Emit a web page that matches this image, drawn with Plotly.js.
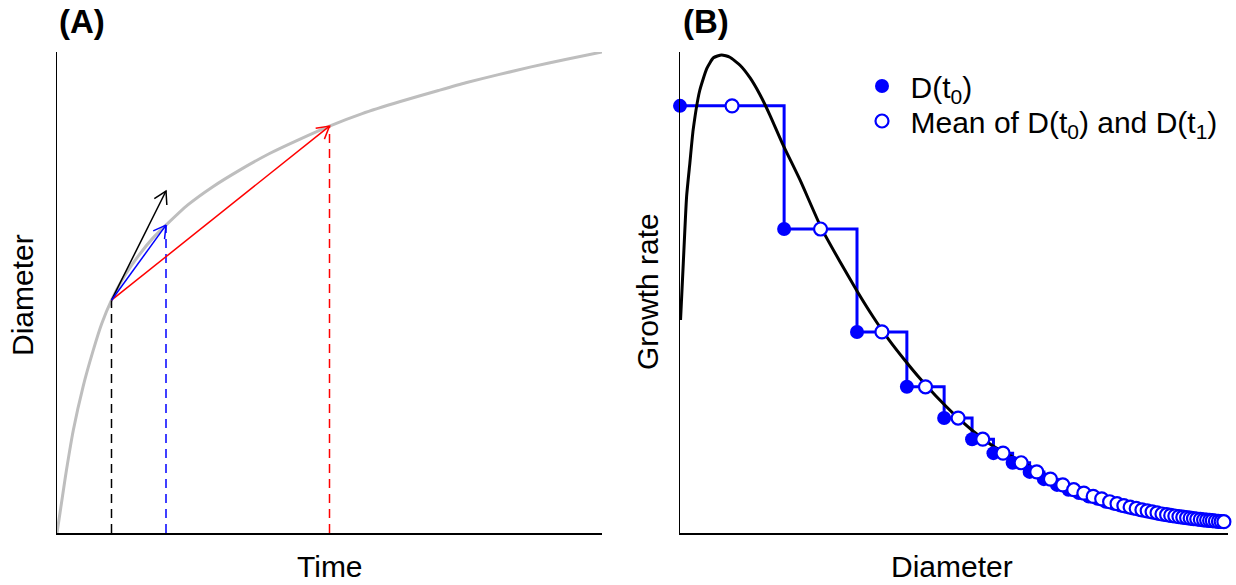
<!DOCTYPE html>
<html><head><meta charset="utf-8">
<script src="https://cdn.plot.ly/plotly-3.0.1.min.js"></script>
<style>html,body{margin:0;padding:0;background:#fff}</style>
</head><body><div id="chart" style="width:1236px;height:585px"></div>
<script>
// ---------- Panel A data: diameter vs time ----------
const timeA = [0, 1.5, 3, 4.8, 6.6, 8.2, 10, 12, 15, 17.5, 20, 24, 28.6, 33.6, 39, 44.6, 50, 56, 63, 70, 75, 81, 87, 93.5, 100];
const diamA = [0, 11.4, 21.4, 30.5, 37.8, 43.5, 48.4, 52.7, 57.7, 61.2, 64.0, 68.2, 72.0, 75.5, 78.9, 81.9, 84.6, 87.2, 89.7, 92.0, 93.6, 95.3, 96.9, 98.5, 100];
const tStart = 10, dStart = 48.4;          // D(t0)
const tBlue = 20, dBlue = 64.0;            // D(t1), short interval
const tRed = 50, dRed = 84.6;              // D(t1), long interval
const dTangent = 71.1;                     // tangent end at t = 20

// ---------- Panel B data: growth rate vs diameter ----------
const curveD = [0.1, 0.6, 1.2, 1.8, 2.4, 3.6, 4.9, 6.1, 7.6, 9.1, 11.0, 12.8, 14.6, 16.4, 18.8, 21.9, 25.8, 29.2, 32.3, 35.2, 38.1, 41.1, 43.8, 46.7, 50.4, 53.8, 57.5, 62.0, 67.5, 73.0, 78.5, 83.9, 89.4, 94.9, 100];
const curveG = [44.3, 56.1, 69.9, 76.9, 83.8, 92.0, 96.6, 98.8, 99.4, 98.9, 97.2, 94.6, 91.1, 86.9, 80.7, 73.4, 63.4, 56.4, 50.3, 45.0, 40.2, 35.8, 32.1, 28.5, 24.3, 20.9, 17.8, 15.0, 11.6, 8.9, 6.9, 5.2, 3.95, 3.1, 2.5];
// successive diameters D(t0), D(t1), ... (one more than growth values)
const stepD = [0, 19.0, 32.3, 41.4, 48.2, 53.3, 57.2, 60.7, 63.8, 66.4, 68.8, 70.9, 72.8, 74.6, 76.2, 77.7, 79.1, 80.4, 81.6, 82.7, 83.8, 84.8, 85.7, 86.6, 87.5, 88.4, 89.2, 89.9, 90.7, 91.4, 92.1, 92.8, 93.4, 94.0, 94.6, 95.3, 95.8, 96.4, 96.9, 97.4, 98.0, 98.5, 99.0, 99.5];
// observed growth rate in each interval
const stepG = [88.8, 63.2, 41.8, 30.4, 23.9, 19.5, 16.6, 14.6, 12.7, 11.2, 10.0, 9.0, 8.3, 7.6, 7.1, 6.5, 6.1, 5.7, 5.4, 5.1, 4.8, 4.6, 4.4, 4.2, 3.95, 3.8, 3.66, 3.53, 3.41, 3.28, 3.18, 3.08, 2.99, 2.91, 2.83, 2.74, 2.68, 2.62, 2.56, 2.49, 2.43, 2.39, 2.35];

const legendLabels = ['D(t<sub>0</sub>)', 'Mean of D(t<sub>0</sub>) and D(t<sub>1</sub>)'];

// ---------- geometry ----------
const W = 1236, H = 585;
const plotTop = 52, plotBot = 533;
const aL = 57, aR = 602, bL = 680, bR = 1228;
const xRange = [0, 100], yRange = [0, 100];
const FONT = '"Liberation Sans", Arial, Helvetica, sans-serif';
const BLUE = '#0000FF';

const pxAX = (aR - aL) / (xRange[1] - xRange[0]);
const pxAY = (plotBot - plotTop) / (yRange[1] - yRange[0]);

function arrow(x0, y0, x1, y1, color) {
  const dx = (x1 - x0) * pxAX, dy = (y1 - y0) * pxAY;
  const ang = Math.atan2(dy, dx), L = 14, a = Math.PI / 6;
  const h1x = x1 - L * Math.cos(ang - a) / pxAX, h1y = y1 - L * Math.sin(ang - a) / pxAY;
  const h2x = x1 - L * Math.cos(ang + a) / pxAX, h2y = y1 - L * Math.sin(ang + a) / pxAY;
  return {x: [x0, x1, null, h1x, x1, h2x], y: [y0, y1, null, h1y, y1, h2y],
    mode: 'lines', line: {color: color, width: 1.5}, xaxis: 'x', yaxis: 'y',
    showlegend: false, hoverinfo: 'skip'};
}
function vdash(x, y, color) {
  return {x: [x, x], y: [0, y], mode: 'lines', line: {color: color, width: 1.5, dash: '9px,6px'},
    xaxis: 'x', yaxis: 'y', showlegend: false, hoverinfo: 'skip'};
}

// step line
const sx = [], sy = [];
for (let k = 0; k < stepG.length; k++) { sx.push(stepD[k]); sy.push(stepG[k]); }
sx.push(stepD[stepG.length]); sy.push(stepG[stepG.length - 1]);
const filledD = stepD.slice(0, stepG.length);
const meanD = stepG.map((g, k) => (stepD[k] + stepD[k + 1]) / 2);

const traces = [
  {x: timeA, y: diamA, mode: 'lines', line: {color: '#BEBEBE', width: 3, shape: 'spline', smoothing: 0.6},
   xaxis: 'x', yaxis: 'y', showlegend: false, hoverinfo: 'skip'},
  vdash(tStart, dStart, '#000000'),
  vdash(tBlue, dBlue, BLUE),
  vdash(tRed, dRed, '#FF0000'),
  arrow(tStart, dStart, tRed, dRed, '#FF0000'),
  arrow(tStart, dStart, tBlue, dTangent, '#000000'),
  arrow(tStart, dStart, tBlue, dBlue, BLUE),
  {x: sx, y: sy, mode: 'lines', line: {color: BLUE, width: 3, shape: 'hv'},
   xaxis: 'x2', yaxis: 'y2', showlegend: false, hoverinfo: 'skip'},
  {x: curveD, y: curveG, mode: 'lines', line: {color: '#000000', width: 3, shape: 'spline', smoothing: 0.5},
   xaxis: 'x2', yaxis: 'y2', showlegend: false, hoverinfo: 'skip'},
  {x: filledD, y: stepG, mode: 'markers', name: legendLabels[0], legend: 'legend',
   marker: {color: BLUE, size: 14, line: {width: 0}}, cliponaxis: false,
   xaxis: 'x2', yaxis: 'y2', hoverinfo: 'skip'},
  {x: meanD, y: stepG, mode: 'markers', name: legendLabels[1], legend: 'legend2',
   marker: {color: '#FFFFFF', size: 13, line: {color: BLUE, width: 2.2}}, cliponaxis: false,
   xaxis: 'x2', yaxis: 'y2', hoverinfo: 'skip'}
];

function ax(domain, anchor, lw) {
  return {domain: domain, range: xRange, anchor: anchor, showline: true, linecolor: '#000', linewidth: lw,
    showticklabels: false, ticks: '', showgrid: false, zeroline: false, fixedrange: true};
}
const yDom = [(H - plotBot) / H, (H - plotTop) / H];
const legendCommon = {xanchor: 'left', yanchor: 'middle', bgcolor: 'rgba(0,0,0,0)', borderwidth: 0,
  font: {family: FONT, size: 30, color: '#000'}, itemwidth: 47};

const layout = {
  width: W, height: H, autosize: false,
  margin: {l: 0, r: 0, t: 0, b: 0, pad: 0},
  paper_bgcolor: '#fff', plot_bgcolor: '#fff',
  font: {family: FONT, color: '#000'},
  xaxis: ax([aL / W, aR / W], 'y', 2),
  yaxis: Object.assign(ax(yDom, 'x', 1.5), {range: yRange}),
  xaxis2: ax([bL / W, bR / W], 'y2', 2),
  yaxis2: Object.assign(ax(yDom, 'x2', 1.5), {range: yRange}),
  legend: Object.assign({x: 853.5 / W, y: 1 - 86 / H}, legendCommon),
  legend2: Object.assign({x: 853.5 / W, y: 1 - 121 / H}, legendCommon),
  annotations: [
    {text: '<b>(A)</b>', x: aL / W, y: 1 - 22 / H, xref: 'paper', yref: 'paper', xanchor: 'left', yanchor: 'middle', showarrow: false, font: {size: 33}},
    {text: '<b>(B)</b>', x: (bL + 1) / W, y: 1 - 22 / H, xref: 'paper', yref: 'paper', xanchor: 'left', yanchor: 'middle', showarrow: false, font: {size: 33}},
    {text: 'Time', x: 330 / W, y: 1 - 566 / H, xref: 'paper', yref: 'paper', xanchor: 'center', yanchor: 'middle', showarrow: false, font: {size: 30}},
    {text: 'Diameter', x: 952 / W, y: 1 - 566 / H, xref: 'paper', yref: 'paper', xanchor: 'center', yanchor: 'middle', showarrow: false, font: {size: 30}},
    {text: 'Diameter', x: 22 / W, y: 1 - 295 / H, xref: 'paper', yref: 'paper', xanchor: 'center', yanchor: 'middle', textangle: -90, showarrow: false, font: {size: 30}},
    {text: 'Growth rate', x: 647 / W, y: 1 - 292 / H, xref: 'paper', yref: 'paper', xanchor: 'center', yanchor: 'middle', textangle: -90, showarrow: false, font: {size: 30}}
  ]
};

Plotly.newPlot('chart', traces, layout, {displayModeBar: false, staticPlot: true});
</script>
</body></html>
